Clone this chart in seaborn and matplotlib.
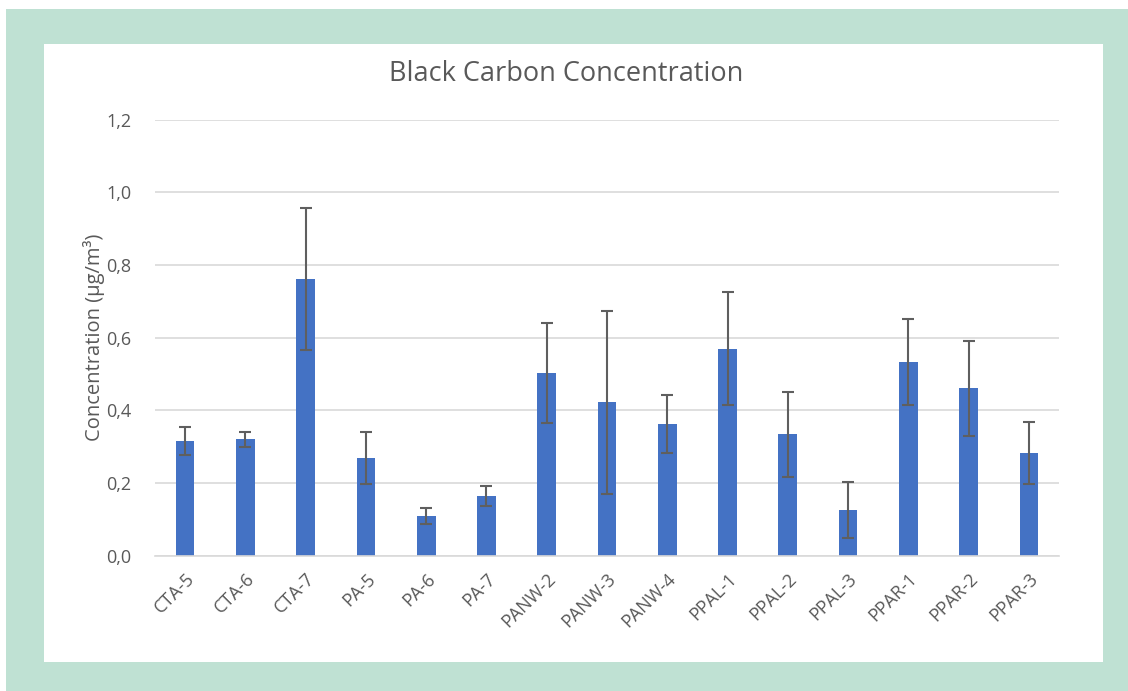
import matplotlib
matplotlib.use("Agg")
import matplotlib.pyplot as plt
from matplotlib.patches import Rectangle
from matplotlib.ticker import FuncFormatter
import seaborn as sns
import pandas as pd

categories = ["CTA-5", "CTA-6", "CTA-7", "PA-5", "PA-6", "PA-7", "PANW-2", "PANW-3",
              "PANW-4", "PPAL-1", "PPAL-2", "PPAL-3", "PPAR-1", "PPAR-2", "PPAR-3"]
values = [0.316, 0.320, 0.762, 0.269, 0.109, 0.164, 0.502, 0.422,
          0.362, 0.570, 0.334, 0.126, 0.533, 0.461, 0.282]
errors = [0.038, 0.021, 0.195, 0.072, 0.021, 0.028, 0.138, 0.252,
          0.080, 0.155, 0.117, 0.078, 0.119, 0.131, 0.085]
yticks = [0.0, 0.2, 0.4, 0.6, 0.8, 1.0, 1.2]

sns.set_theme(style="white")
plt.rcParams['font.family'] = ['Open Sans', 'DejaVu Sans']

W, H = 1128, 691
fig = plt.figure(figsize=(W / 100, H / 100), dpi=100)
fig.patch.set_facecolor("white")
fig.patches.append(Rectangle((6 / W, 0), 1 - 6 / W, 1 - 9 / H, transform=fig.transFigure,
                             facecolor="#BFE1D3", edgecolor="none", zorder=-2))
fig.patches.append(Rectangle((44 / W, 1 - 662 / H), (1103 - 44) / W, (662 - 44) / H,
                             transform=fig.transFigure, facecolor="white",
                             edgecolor="none", zorder=-1))

ax = fig.add_axes([155 / W, 1 - 555.7 / H, (1059 - 155) / W, (555.7 - 119.6) / H])
ax.set_facecolor("none")

df = pd.DataFrame({"cat": categories, "val": values})
sns.barplot(data=df, x="cat", y="val", ax=ax, color="#4472C4", width=0.31,
            saturation=1, errorbar=None, linewidth=0, zorder=2)
ax.errorbar(range(len(categories)), values, yerr=errors, fmt="none",
            ecolor="#5F5F5F", elinewidth=1.5, capsize=4, capthick=1.5, zorder=3)

ax.set_ylim(0, 1.2)
ax.set_xlim(-0.5, len(categories) - 0.5)
ax.set_yticks(yticks)
ax.yaxis.set_major_formatter(FuncFormatter(lambda v, p: f"{v:.1f}".replace(".", ",")))
ax.grid(axis="y", color="#D9D9D9", linewidth=1.2, zorder=0)
ax.set_axisbelow(True)
for s in ["top", "right", "left"]:
    ax.spines[s].set_visible(False)
ax.spines["bottom"].set_color("#D9D9D9")
ax.spines["bottom"].set_linewidth(1.2)
ax.tick_params(axis="both", length=0, colors="#595959", labelsize=13)
ax.tick_params(axis="y", pad=17)
ax.tick_params(axis="x", pad=10)
plt.setp(ax.get_xticklabels(), rotation=45, ha="right", rotation_mode="anchor")
ax.set_xlabel("")
ax.set_ylabel("Concentration (µg/m³)", color="#595959", fontsize=14.5, labelpad=1)

fig.text(566 / W, 1 - 74 / H, "Black Carbon Concentration", ha="center", va="center",
         fontsize=19.5, color="#595959")

fig.savefig("out.png", dpi=100)
